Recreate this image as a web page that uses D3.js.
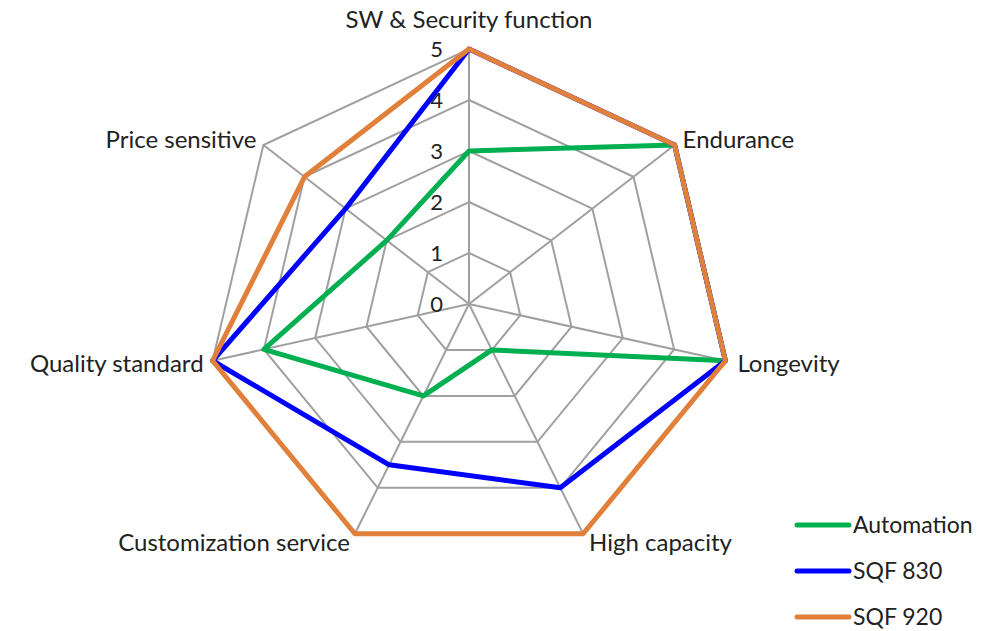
<!DOCTYPE html>
<html>
<head>
<meta charset="utf-8">
<script src="https://cdn.jsdelivr.net/npm/d3@7"></script>
<style>
	body { margin: 0; background: white; }
	svg { display: block; }
</style>
</head>
<body>
<script>

//****************************************************************************************************************************//
// Data

var categories = ["SW & Security function", "Endurance", "Longevity", "High capacity", "Customization service", "Quality standard", "Price sensitive"];
var tickValues = [0, 1, 2, 3, 4, 5];
var seriesNames = ["Automation", "SQF 830", "SQF 920"];
var automation = [3, 5, 5, 1, 2, 4, 2];
var sqf830 = [5, 5, 5, 4, 3.5, 5, 3];
var sqf920 = [5, 5, 5, 5, 5, 5, 4];
var seriesColors = ["#00b050", "#0000ff", "#e0803a"];

var series = [automation, sqf830, sqf920];

//****************************************************************************************************************************//
// Canvas

var width = 991, height = 631;
var center = {x : 469, y : 304};
var stretchX = 263/255;
var fontFamily = "Lato, 'Open Sans', sans-serif";

var canvas = d3.select("body").append("svg")
				.attr("width", width)
				.attr("height", height);

var r = d3.scaleLinear().domain([0, 5]).range([0, 255]);
var angle = d3.scaleLinear().domain([0, categories.length]).range([0, 2*Math.PI]);

function px(i, v){ return center.x + stretchX*r(v)*Math.sin(angle(i)); }
function py(i, v){ return center.y - r(v)*Math.cos(angle(i)); }

var idx = d3.range(categories.length);

//****************************************************************************************************************************//
// Grid

var grid = canvas.append("g");

grid.selectAll(".ring")
	.data(tickValues.slice(1))
	.enter().append("polygon")
	.attr("points", function(t){ return idx.map(function(i){ return px(i, t) + "," + py(i, t); }).join(" "); })
	.attr("fill", "none")
	.attr("stroke", "#a0a0a0")
	.attr("stroke-width", 2);

grid.selectAll(".spoke")
	.data(idx)
	.enter().append("line")
	.attr("x1", center.x)
	.attr("y1", center.y)
	.attr("x2", function(i){ return px(i, 5); })
	.attr("y2", function(i){ return py(i, 5); })
	.attr("stroke", "#a0a0a0")
	.attr("stroke-width", 2);

//****************************************************************************************************************************//
// Tick labels

canvas.selectAll(".tick")
	.data(tickValues)
	.enter().append("text")
	.attr("x", center.x - 26)
	.attr("y", function(t){ return py(0, t); })
	.attr("dy", "0.36em")
	.attr("text-anchor", "end")
	.style("font-size", "22px")
	.style("font-family", fontFamily)
	.style("fill", "#222")
	.text(function(t){ return t; });

//****************************************************************************************************************************//
// Category labels

var labelPos = [
	{dx : 0, dy : -29, anchor : "middle"},
	{dx : 8, dy : -5, anchor : "start"},
	{dx : 12, dy : 3, anchor : "start"},
	{dx : 6, dy : 9, anchor : "start"},
	{dx : -5, dy : 9, anchor : "end"},
	{dx : -9, dy : 3, anchor : "end"},
	{dx : -7, dy : -5, anchor : "end"}
];

canvas.selectAll(".catLabel")
	.data(idx)
	.enter().append("text")
	.attr("x", function(i){ return px(i, 5) + labelPos[i].dx; })
	.attr("y", function(i){ return py(i, 5) + labelPos[i].dy; })
	.attr("dy", "0.35em")
	.attr("text-anchor", function(i){ return labelPos[i].anchor; })
	.style("font-size", "24px")
	.style("font-family", fontFamily)
	.style("fill", "#222")
	.text(function(i){ return categories[i]; });

//****************************************************************************************************************************//
// Series

var line = d3.line()
			.x(function(d, i){ return px(i, d); })
			.y(function(d, i){ return py(i, d); })
			.curve(d3.curveLinearClosed);

canvas.selectAll(".series")
	.data(series)
	.enter().append("path")
	.attr("d", function(d){ return line(d); })
	.attr("fill", "none")
	.attr("stroke", function(d, i){ return seriesColors[i]; })
	.attr("stroke-width", 5)
	.attr("stroke-linejoin", "round");

//****************************************************************************************************************************//
// Legend

var legend = canvas.append("g")
					.attr("transform", "translate(797,525)");

var legendItems = legend.selectAll(".legendItem")
						.data(seriesNames)
						.enter().append("g")
						.attr("transform", function(d, i){ return "translate(0," + (i*46) + ")"; });

legendItems.append("line")
			.attr("x1", 0)
			.attr("x2", 52)
			.attr("y1", 0)
			.attr("y2", 0)
			.attr("stroke", function(d, i){ return seriesColors[i]; })
			.attr("stroke-width", 5)
			.attr("stroke-linecap", "round");

legendItems.append("text")
			.attr("x", 56)
			.attr("y", 0)
			.attr("dy", "0.33em")
			.style("font-size", "23px")
			.style("font-family", fontFamily)
			.style("fill", "#222")
			.text(function(d){ return d; });

</script>
</body>
</html>
